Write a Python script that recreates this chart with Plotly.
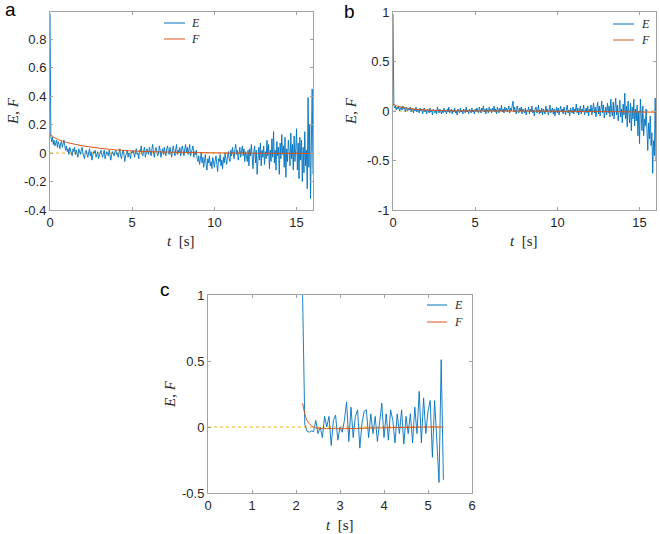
import numpy as np
import plotly.graph_objects as go

# ---------------- Panel a (t from 0 to 16 s, ~0.05 s sampling) ----------------
E_a = [
    0.98, 0.12, 0.08, 0.11, 0.06, 0.09, 0.05, 0.07, 0.09, 0.04, 0.08, 0.06, 0.03, 0.07, 0.08, 0.04, 0.06, 0.09, 0.05, 0.02,
    0.05, 0.01, 0.03, -0.01, 0.04, 0.02, 0.00, -0.02, 0.03, 0.01, 0.04, -0.01, 0.02, 0.00, -0.03, 0.03, 0.01, -0.01, 0.02, 0.04,
    0.00, -0.02, -0.04, 0.01, 0.02, -0.01, -0.03, 0.00, 0.03, -0.02, 0.01, -0.05, -0.02, 0.01, 0.00, 0.02, -0.03, -0.01, 0.01, -0.04,
    -0.02, 0.01, 0.02, -0.01, -0.03, 0.00, 0.02, -0.04, -0.01, 0.01, 0.00, -0.02, 0.02, -0.03, -0.05, -0.01, 0.01, 0.00, -0.02, 0.01,
    0.02, -0.01, 0.00, -0.03, 0.01, 0.03, -0.02, -0.04, 0.00, 0.02, -0.01, -0.06, -0.02, 0.01, 0.02, -0.03, 0.00, -0.01, -0.04, 0.01,
    0.00, 0.02, -0.02, -0.03, 0.01, 0.03, -0.01, 0.00, -0.04, 0.02, 0.01, 0.05, -0.01, -0.02, 0.02, 0.04, -0.03, 0.00, 0.03, 0.01,
    -0.01, 0.04, 0.01, -0.02, 0.03, 0.06, 0.00, -0.03, 0.02, 0.04, 0.01, -0.02, 0.00, 0.05, 0.02, -0.03, 0.01, 0.03, -0.01, 0.04,
    0.00, -0.02, 0.03, 0.05, 0.01, -0.01, 0.04, 0.00, -0.03, 0.02, 0.05, 0.01, -0.02, 0.03, 0.06, -0.01, 0.02, 0.00, 0.04, -0.02,
    0.01, 0.05, 0.02, -0.02, 0.03, 0.06, 0.00, 0.04, -0.01, 0.02, 0.06, -0.02, 0.00, 0.03, 0.05, -0.03, 0.01, -0.01, 0.02, -0.04,
    -0.06, -0.02, -0.08, -0.04, 0.00, -0.07, -0.03, -0.10, -0.05, -0.01, -0.08, -0.12, -0.04, -0.07, -0.02, -0.09, -0.06, -0.11, -0.03, -0.07,
    -0.10, -0.05, -0.02, -0.08, -0.13, -0.04, -0.06, -0.01, -0.09, -0.05, -0.11, -0.03, -0.07, 0.00, -0.05, -0.08, -0.02, 0.01, -0.04, -0.06,
    0.02, -0.02, 0.04, 0.00, -0.04, 0.03, 0.06, -0.01, 0.02, -0.05, 0.01, 0.04, -0.03, 0.00, 0.05, -0.02, 0.03, -0.06, 0.01, -0.02,
    -0.06, 0.02, -0.09, 0.03, -0.02, 0.06, -0.04, -0.11, 0.01, 0.05, -0.07, 0.02, -0.15, 0.00, 0.04, -0.05, 0.07, -0.09, 0.02, -0.03,
    0.05, -0.08, 0.01, -0.04, 0.09, -0.02, 0.06, -0.11, 0.02, -0.06, 0.10, -0.03, 0.15, -0.07, 0.02, -0.12, 0.08, -0.02, 0.04, -0.15,
    0.07, -0.04, 0.13, -0.01, 0.05, -0.10, 0.11, -0.17, 0.03, -0.06, 0.09, 0.01, -0.09, 0.14, -0.04, 0.06, -0.12, 0.12, -0.06, 0.03,
    0.17, -0.12, 0.07, -0.18, 0.11, -0.05, 0.09, -0.20, 0.04, -0.14, 0.15, -0.09, 0.02, -0.25, 0.39, -0.10, 0.20, -0.32, 0.05, 0.45,
    -0.15,
]
E_a_span = [0, 16]
F_a_t = [0, 0.25, 0.5, 1, 1.5, 2, 2.5, 3, 4, 5, 6, 7, 8, 9, 10, 11, 12, 13, 14, 15, 16]
F_a = [0.13, 0.11, 0.095, 0.075, 0.062, 0.05, 0.042, 0.034, 0.022, 0.014, 0.01, 0.007, 0.005, 0.003, 0.001,
       0.0, -0.001, -0.002, -0.002, -0.003, -0.003]

# ---------------- Panel b (t from 0 to 16 s, ~0.05 s sampling) ----------------
E_b = [
    0.98, 0.06, 0.03, 0.05, 0.01, 0.04, 0.02, 0.05, 0.00, 0.03, 0.04, 0.01, 0.05, 0.02, 0.03, -0.01, 0.04, 0.02, 0.00, 0.03,
    0.01, 0.04, -0.01, 0.02, 0.03, -0.02, 0.02, 0.00, 0.04, -0.01, 0.02, 0.01, -0.02, 0.03, 0.00, 0.02, -0.03, 0.01, 0.03, -0.01,
    0.01, -0.03, 0.02, 0.00, -0.02, 0.03, -0.01, 0.01, -0.04, 0.02, 0.00, -0.02, 0.01, -0.03, 0.04, 0.00, -0.02, 0.02, -0.01, -0.03,
    0.01, -0.02, 0.03, -0.01, 0.00, -0.03, 0.02, -0.01, 0.04, -0.02, 0.00, 0.02, -0.03, 0.01, -0.01, 0.03, -0.02, 0.00, -0.04, 0.02,
    0.00, -0.02, 0.03, -0.01, 0.01, -0.03, 0.02, 0.00, -0.02, 0.04, -0.01, 0.01, -0.03, 0.02, 0.00, -0.02, 0.03, -0.01, 0.01, -0.03,
    0.02, -0.01, 0.03, 0.00, -0.02, 0.04, 0.01, -0.02, 0.03, 0.00, 0.05, -0.01, 0.02, -0.03, 0.03, 0.01, -0.02, 0.04, 0.00, 0.02,
    -0.02, 0.03, 0.00, 0.05, -0.01, 0.02, -0.03, 0.04, 0.01, -0.02, 0.03, 0.00, 0.06, -0.01, 0.02, -0.02, 0.04, 0.00, 0.03, -0.01,
    0.02, 0.05, -0.02, 0.03, 0.00, 0.06, 0.10, -0.01, 0.04, 0.00, -0.03, 0.05, 0.01, -0.02, 0.03, 0.00, 0.04, -0.03, 0.02, 0.00,
    -0.02, 0.03, -0.04, 0.01, 0.00, 0.04, -0.03, 0.02, -0.01, 0.05, -0.02, 0.01, -0.05, 0.02, 0.04, -0.02, 0.00, 0.06, -0.03, 0.01,
    -0.02, 0.03, -0.04, 0.02, 0.00, -0.03, 0.05, -0.01, 0.02, -0.04, 0.01, 0.06, -0.02, 0.00, 0.03, -0.03, 0.02, -0.05, 0.01, 0.04,
    -0.02, 0.03, -0.04, 0.01, 0.05, -0.01, 0.02, -0.03, 0.04, 0.00, -0.04, 0.02, 0.06, -0.02, 0.01, -0.05, 0.03, 0.00, -0.02, 0.04,
    -0.03, 0.02, 0.00, 0.07, -0.02, 0.03, -0.04, 0.01, 0.05, -0.03, 0.02, -0.01, 0.06, -0.04, 0.00, 0.03, -0.02, 0.05, -0.05, 0.02,
    -0.01, 0.06, -0.04, 0.02, 0.08, -0.02, 0.04, -0.06, 0.01, 0.09, -0.03, 0.05, -0.05, 0.03, 0.10, -0.02, 0.06, -0.07, 0.02, 0.04,
    -0.04, 0.08, -0.02, 0.05, -0.06, 0.12, 0.00, -0.05, 0.09, -0.08, 0.04, 0.13, -0.04, 0.06, -0.10, 0.03, 0.11, -0.06, 0.02, -0.12,
    0.07, -0.04, 0.18, -0.08, 0.05, -0.16, 0.10, -0.03, -0.12, 0.08, -0.20, 0.04, -0.08, 0.12, -0.15, 0.02, -0.10, 0.06, -0.25, 0.00,
    -0.33, 0.12, -0.05, -0.20, 0.05, -0.25, -0.08, -0.15, 0.02, -0.30, -0.40, -0.12, -0.28, -0.05, -0.35, -0.22, -0.63, -0.30, -0.45, 0.13,
    -0.50,
]
E_b_span = [0, 16]
F_b_t = [0, 0.25, 0.5, 1, 1.5, 2, 3, 4, 6, 8, 10, 12, 14, 16]
F_b = [0.07, 0.05, 0.04, 0.025, 0.015, 0.01, 0.005, 0.002, 0.0, 0.0, -0.003, -0.005, -0.008, -0.012]

# ---------------- Panel c (t from 2.15 to 5.35 s, ~0.05 s sampling) ----------------
E_c = [
    1.00, 0.02, -0.03, -0.04, -0.03, -0.035, 0.05, -0.05, 0.00, -0.08,
    0.08, 0.00, 0.08, -0.14, 0.05, 0.09, -0.10, 0.00, -0.04, 0.05,
    0.19, -0.11, 0.15, -0.08, 0.08, 0.13, -0.16, 0.03, 0.12, 0.13,
    -0.08, 0.10, -0.05, 0.08, -0.11, 0.05, 0.18, -0.08, 0.10, -0.10,
    0.13, 0.05, -0.12, 0.10, -0.05, 0.13, -0.13, 0.08, -0.05, 0.10,
    -0.12, 0.15, -0.05, 0.27, -0.12, 0.22, -0.05, 0.12, 0.20, -0.23,
    0.20, -0.10, -0.42, 0.51, -0.40,
]
E_c_span = [2.15, 5.35]
F_c_t = [2.15, 2.2, 2.25, 2.3, 2.35, 2.4, 2.5, 2.6, 2.8, 3.0, 3.25, 3.5, 4.0, 4.5, 5.0, 5.35]
F_c = [0.18, 0.1, 0.05, 0.025, 0.01, 0.0, -0.01, -0.012, -0.012, -0.013, -0.012, -0.01, -0.006, -0.003, 0.0, 0.0]

REF_a_t = [0, 16]
REF_b_t = [0, 16]
REF_c_t = [0, 5.35]
REF_val = [0, 0]

t_a = np.linspace(E_a_span[0], E_a_span[1], len(E_a))
t_b = np.linspace(E_b_span[0], E_b_span[1], len(E_b))
t_c = np.linspace(E_c_span[0], E_c_span[1], len(E_c))

BLUE = "#0072BD"
ORANGE = "#D95319"
YELLOW = "#EDB120"
W, H = 660, 534

fig = go.Figure()


def add_panel(tE, E, tF, F, tR, ax):
    xa = "x" if ax == 1 else f"x{ax}"
    ya = "y" if ax == 1 else f"y{ax}"
    fig.add_trace(go.Scatter(x=tR, y=REF_val, mode="lines", xaxis=xa, yaxis=ya,
                             line=dict(color=YELLOW, width=1, dash="dot"), showlegend=False))
    fig.add_trace(go.Scatter(x=tE, y=E, mode="lines", xaxis=xa, yaxis=ya, name="E",
                             line=dict(color=BLUE, width=0.9), showlegend=False))
    fig.add_trace(go.Scatter(x=tF, y=F, mode="lines", xaxis=xa, yaxis=ya, name="F",
                             line=dict(color=ORANGE, width=1, shape="spline"), showlegend=False))


add_panel(t_a, E_a, F_a_t, F_a, REF_a_t, 1)
add_panel(t_b, E_b, F_b_t, F_b, REF_b_t, 2)
add_panel(t_c, E_c, F_c_t, F_c, REF_c_t, 3)

axis_style = dict(showline=True, mirror="ticks", linecolor="#a3a3a3", linewidth=1,
                  ticks="inside", ticklen=3, tickcolor="#a3a3a3", showgrid=False,
                  zeroline=False, automargin=False,
                  tickfont=dict(family="Liberation Sans, Arial", size=13, color="#262626"))


def px_dom_x(a, b):
    return [a / W, b / W]


def px_dom_y(top, bottom):
    return [1 - bottom / H, 1 - top / H]


fig.update_layout(
    width=W, height=H,
    margin=dict(l=0, r=0, t=0, b=0, pad=0),
    paper_bgcolor="white", plot_bgcolor="white",
    showlegend=False,
    xaxis=dict(axis_style, domain=px_dom_x(50, 313), range=[0, 16], tickvals=[0, 5, 10, 15],
               ticktext=["0", "5", "10", "15"], anchor="y"),
    yaxis=dict(axis_style, domain=px_dom_y(12, 210), range=[-0.4, 0.99],
               tickvals=[-0.4, -0.2, 0, 0.2, 0.4, 0.6, 0.8],
               ticktext=["-0.4", "-0.2", "0", "0.2", "0.4", "0.6", "0.8"], anchor="x"),
    xaxis2=dict(axis_style, domain=px_dom_x(393, 656), range=[0, 16], tickvals=[0, 5, 10, 15],
                ticktext=["0", "5", "10", "15"], anchor="y2"),
    yaxis2=dict(axis_style, domain=px_dom_y(12, 210), range=[-1, 1],
                tickvals=[-1, -0.5, 0, 0.5, 1], ticktext=["-1", "-0.5", "0", "0.5", "1"], anchor="x2"),
    xaxis3=dict(axis_style, domain=px_dom_x(208, 472), range=[0, 6], tickvals=[0, 1, 2, 3, 4, 5, 6],
                ticktext=["0", "1", "2", "3", "4", "5", "6"], anchor="y3"),
    yaxis3=dict(axis_style, domain=px_dom_y(295, 493), range=[-0.5, 1],
                tickvals=[-0.5, 0, 0.5, 1], ticktext=["-0.5", "0", "0.5", "1"], anchor="x3"),
)

serif = dict(family="Liberation Serif, Times New Roman", size=15, color="#262626")
serif_leg = dict(family="Liberation Serif, Times New Roman", size=12, color="#262626")
sans_big = dict(family="Liberation Sans, Arial", size=19, color="#000000")


def ann(x, y, text, font, angle=0, xanchor="center"):
    fig.add_annotation(x=x / W, y=1 - y / H, xref="paper", yref="paper", text=text,
                       showarrow=False, font=font, textangle=angle,
                       xanchor=xanchor, yanchor="middle", borderpad=0)


# legends (swatch line + label), one per panel
LEGENDS = [
    (164, 185, 190, 23, 39),
    (613, 634, 640, 24, 40),
    (427, 447, 453, 305, 322),
]
for x0, x1, xt, yE, yF in LEGENDS:
    for yy, col, lab in ((yE, BLUE, "<i>E</i>"), (yF, ORANGE, "<i>F</i>")):
        fig.add_shape(type="line", xref="paper", yref="paper", x0=x0 / W, x1=x1 / W,
                      y0=1 - yy / H, y1=1 - yy / H, line=dict(color=col, width=1))
        ann(xt, yy, lab, serif_leg, xanchor="left")

# panel letters
ann(10, 9, "a", sans_big)
ann(349, 11, "b", sans_big)
ann(165, 289, "c", sans_big)
# axis titles
ann(181, 241, "<i>t</i>  [s]", serif)
ann(524, 241, "<i>t</i>  [s]", serif)
ann(340, 525, "<i>t</i>  [s]", serif)
ann(13, 111, "<i>E</i>, <i>F</i>", serif, -90)
ann(351, 111, "<i>E</i>, <i>F</i>", serif, -90)
ann(170, 394, "<i>E</i>, <i>F</i>", serif, -90)

fig.write_html("out.html", config={"displayModeBar": False},
               post_script="document.body.style.margin='0';")
